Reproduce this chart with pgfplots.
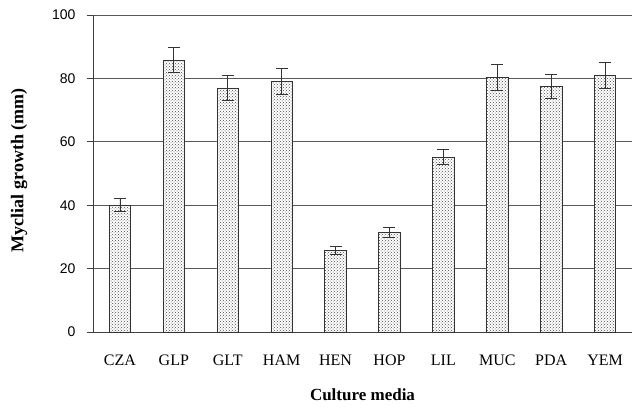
\documentclass[border=0pt]{standalone}
\usepackage{pgfplots}
\pgfplotsset{compat=1.18}
\usepackage{pgfplotstable}
\usetikzlibrary{patterns}
\usepackage{fontspec}
\setmainfont{Liberation Serif}
\newfontfamily\tickfont{Liberation Sans}

% mean mycelial growth and its error on each medium
\pgfplotstableread{
x name value err
0 CZA 40.0 2.0
1 GLP 85.8 4.0
2 GLT 77.0 3.8
3 HAM 79.0 4.0
4 HEN 25.8 1.3
5 HOP 31.3 1.6
6 LIL 55.2 2.3
7 MUC 80.2 4.1
8 PDA 77.5 3.9
9 YEM 81.0 4.1
}\growth

\begin{document}
\begin{tikzpicture}
\begin{axis}[
  scale only axis,
  width=539pt, height=317pt,
  xmin=-0.5, xmax=9.5,
  ymin=0, ymax=100,
  axis lines*=left,
  axis line style={black!75, line width=0.8pt},
  xtick={0,...,9},
  xticklabels={CZA,GLP,GLT,HAM,HEN,HOP,LIL,MUC,PDA,YEM},
  major x tick style={draw=none},
  xticklabel style={font=\fontsize{16}{19}\selectfont, yshift=-13pt},
  ytick={0,20,...,100},
  /pgf/number format/assume math mode=true,
  tick align=outside,
  major tick length=6pt,
  y tick style={black!75, line width=0.8pt},
  yticklabel style={font=\tickfont\fontsize{14}{16}\selectfont, xshift=-8pt},
  ymajorgrids,
  grid style={black!65, line width=0.8pt},
  xlabel={Culture media},
  ylabel={Myclial growth (mm)},
  xlabel style={font=\bfseries\fontsize{17}{20}\selectfont, at={(axis description cs:0.5,0)}, anchor=center, yshift=-63pt},
  ylabel style={font=\bfseries\fontsize{18}{21}\selectfont, at={(axis description cs:-0.137,0.51)}, anchor=center},
  ybar,
  bar width=0.4,
]
\addplot[
  draw=black!80, line width=0.7pt,
  fill=white,
  postaction={pattern=crosshatch dots, pattern color=black!70},
  error bars/.cd,
    y dir=both, y explicit,
    error bar style={black!80, line width=0.8pt},
    error mark options={rotate=90, mark size=6pt, black!80, line width=0.8pt},
] table[x=x, y=value, y error=err] {\growth};
\coordinate (o) at (rel axis cs:0,0);
\end{axis}
\pgfresetboundingbox
\path[use as bounding box] (o) ++(-93pt,-75pt) rectangle ++(637pt,407pt);
\end{tikzpicture}
\end{document}
